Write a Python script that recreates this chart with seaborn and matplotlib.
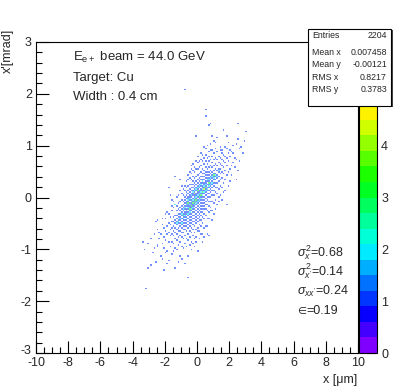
import numpy as np
import matplotlib
matplotlib.use("Agg")
import matplotlib.pyplot as plt
import matplotlib.transforms as mtransforms
from matplotlib.colors import ListedColormap, hsv_to_rgb
from matplotlib.patches import Rectangle
from matplotlib.ticker import MultipleLocator
import seaborn as sns

# ---------------- data ----------------
# core of the distribution: one x bin per column, y positions of occupied bins (1 entry)
core_col_x = [-2.45, -2.35, -2.25, -2.15, -2.05, -1.95, -1.85, -1.75, -1.65, -1.55,
              -1.45, -1.35, -1.25, -1.15, -1.05, -0.95, -0.85, -0.75, -0.65, -0.55,
              -0.45, -0.35, -0.25, -0.15, -0.05, 0.05, 0.15, 0.25, 0.35, 0.45,
              0.55, 0.65, 0.75, 0.85, 0.95, 1.05, 1.15, 1.25, 1.35, 1.45,
              1.55, 1.65, 1.75, 1.85, 1.95, 2.05, 2.15, 2.25, 2.35, 2.45]
core_col_y = [
    [-0.95, -0.62],
    [-0.80],
    [-1.12, -0.71],
    [-0.88, -0.52],
    [-0.97, -0.76, -0.58],
    [-0.83, -0.64, -0.40],
    [-1.03, -0.70, -0.55],
    [-0.86, -0.67, -0.49, -0.31],
    [-0.94, -0.74, -0.61, -0.52, -0.37],
    [-0.85, -0.70, -0.58, -0.47, -0.25],
    [-0.89, -0.73, -0.64, -0.55, -0.46, -0.38, -0.20],
    [-0.97, -0.79, -0.67, -0.58, -0.49, -0.43, -0.34, -0.13],
    [-0.83, -0.71, -0.62, -0.53, -0.47, -0.41, -0.35, -0.26, -0.17],
    [-0.92, -0.76, -0.65, -0.59, -0.50, -0.44, -0.38, -0.32, -0.23, -0.10, 0.04],
    [-0.86, -0.73, -0.64, -0.55, -0.49, -0.43, -0.37, -0.31, -0.25, -0.19, -0.07],
    [-0.95, -0.77, -0.67, -0.58, -0.52, -0.46, -0.40, -0.34, -0.28, -0.22, -0.16, -0.04, 0.08],
    [-0.80, -0.68, -0.61, -0.55, -0.49, -0.43, -0.37, -0.31, -0.25, -0.19, -0.13, -0.07, 0.05],
    [-0.89, -0.74, -0.62, -0.56, -0.50, -0.44, -0.38, -0.32, -0.29, -0.23, -0.17, -0.11, -0.05, 0.02, 0.14, 0.22],
    [-0.79, -0.65, -0.55, -0.49, -0.43, -0.37, -0.31, -0.28, -0.22, -0.16, -0.10, -0.07, -0.01, 0.05, 0.11, 0.20],
    [-0.82, -0.70, -0.58, -0.52, -0.46, -0.40, -0.34, -0.28, -0.22, -0.16, -0.13, -0.07, -0.01, 0.02, 0.08, 0.14, 0.23, 0.35],
    [-0.76, -0.64, -0.55, -0.49, -0.43, -0.37, -0.31, -0.25, -0.19, -0.16, -0.10, -0.04, 0.02, 0.05, 0.11, 0.17, 0.26, 0.38],
    [-0.85, -0.67, -0.58, -0.50, -0.44, -0.38, -0.32, -0.26, -0.20, -0.14, -0.11, -0.05, 0.01, 0.07, 0.13, 0.19, 0.25, 0.34, 0.46],
    [-0.74, -0.61, -0.52, -0.46, -0.40, -0.34, -0.28, -0.22, -0.16, -0.13, -0.07, -0.01, 0.05, 0.08, 0.14, 0.20, 0.26, 0.32, 0.41, 0.53],
    [-0.80, -0.68, -0.56, -0.47, -0.41, -0.35, -0.29, -0.23, -0.17, -0.11, -0.05, 0.01, 0.04, 0.10, 0.16, 0.22, 0.28, 0.37, 0.49],
    [-0.77, -0.62, -0.50, -0.44, -0.38, -0.32, -0.26, -0.20, -0.14, -0.08, -0.02, 0.04, 0.07, 0.13, 0.19, 0.25, 0.31, 0.40, 0.55],
    [-0.58, -0.46, -0.40, -0.34, -0.28, -0.22, -0.16, -0.10, -0.04, 0.02, 0.08, 0.11, 0.17, 0.23, 0.29, 0.35, 0.44, 0.56, 0.68],
    [-0.64, -0.52, -0.43, -0.37, -0.31, -0.25, -0.19, -0.13, -0.07, -0.01, 0.05, 0.11, 0.14, 0.20, 0.26, 0.32, 0.38, 0.47, 0.59],
    [-0.55, -0.43, -0.34, -0.28, -0.22, -0.16, -0.10, -0.04, 0.02, 0.08, 0.14, 0.17, 0.23, 0.29, 0.35, 0.41, 0.50, 0.62, 0.74],
    [-0.49, -0.37, -0.28, -0.22, -0.16, -0.10, -0.04, 0.02, 0.08, 0.14, 0.20, 0.23, 0.29, 0.35, 0.41, 0.47, 0.56, 0.71],
    [-0.58, -0.40, -0.31, -0.22, -0.16, -0.10, -0.04, 0.02, 0.08, 0.14, 0.20, 0.26, 0.29, 0.35, 0.41, 0.47, 0.53, 0.65],
    [-0.34, -0.22, -0.13, -0.07, -0.01, 0.05, 0.11, 0.17, 0.23, 0.29, 0.32, 0.38, 0.44, 0.50, 0.59, 0.71, 0.83],
    [-0.40, -0.25, -0.13, -0.04, 0.02, 0.08, 0.14, 0.20, 0.26, 0.32, 0.38, 0.44, 0.50, 0.56, 0.65, 0.77],
    [-0.28, -0.16, -0.07, 0.02, 0.08, 0.14, 0.20, 0.26, 0.32, 0.38, 0.44, 0.50, 0.59, 0.71, 0.89],
    [-0.19, -0.07, 0.02, 0.11, 0.17, 0.23, 0.29, 0.35, 0.41, 0.47, 0.53, 0.62, 0.74, 0.92],
    [-0.25, -0.07, 0.05, 0.14, 0.20, 0.26, 0.32, 0.38, 0.44, 0.50, 0.59, 0.68, 0.80],
    [-0.10, 0.05, 0.14, 0.23, 0.29, 0.35, 0.41, 0.47, 0.53, 0.62, 0.74, 0.86],
    [-0.04, 0.11, 0.20, 0.29, 0.35, 0.41, 0.47, 0.56, 0.65, 0.77, 0.95],
    [0.08, 0.20, 0.29, 0.38, 0.44, 0.53, 0.62, 0.74, 0.89],
    [0.02, 0.17, 0.32, 0.41, 0.50, 0.56, 0.68, 0.80],
    [0.23, 0.35, 0.47, 0.56, 0.65, 0.77, 0.92],
    [0.20, 0.38, 0.50, 0.62, 0.74, 0.86],
    [0.29, 0.47, 0.59, 0.71, 0.83],
    [0.35, 0.53, 0.68, 0.80, 0.98],
    [0.44, 0.62, 0.77, 0.95],
    [0.50, 0.71, 0.86],
    [0.56, 0.80, 0.92],
    [0.62, 0.89],
    [0.68, 1.01],
    [0.59],
    [0.74, 1.04],
]

# isolated entries far from the core (1 entry each)
outlier_x = [-0.75, 0.55, 0.55, 0.85, 0.75, 2.55, 3.05, -0.05, 0.95, 1.65, 1.85, 1.95,
             2.55, 2.75, 0.45, 1.45, 1.55, 2.25, 2.35, 1.25, -0.35, -1.35, -1.65, 2.45,
             -3.35, -3.25, -3.05, -3.15, -2.75, -3.05, -2.45, -1.75, -1.15, -1.45, -0.55,
             -1.95, -2.35, -2.55, -2.45, -1.35, -1.55, -1.95,
             0.05, 0.65, 0.35, 0.05, 1.85, 1.35, 0.75, 0.85, 0.75]
outlier_y = [2.09, 1.70, 1.58, 1.43, 1.40, 1.43, 1.28, 1.19, 1.19, 1.31, 1.19, 1.07,
             1.13, 0.98, 0.98, 0.98, 0.92, 0.86, 0.77, 1.16, 0.56, 0.40, 0.05, 0.34,
             -0.85, -1.01, -1.37, -1.75, -1.08, -0.88, -0.92, -1.21, -1.24, -1.05, -1.54,
             -1.08, -0.67, -0.47, -0.43, -0.14, -0.16, -0.31,
             -1.04, -0.56, -0.70, -0.64, -0.14, -0.08, -0.40, -0.25, -0.74]

# halo entries around the core (1 entry each)
halo_x = [-1.85, -1.55, -1.25, -1.05, -0.95, -0.85, -0.65, -0.55, -0.45, -0.35, -0.25, -0.15,
          -0.05, 0.05, 0.15, 0.25, 0.35, 0.45, 0.55, 0.65, 0.75, 0.85, 0.95, 1.05, 1.15,
          -1.45, -2.15, -2.65, -1.75, -1.05,
          -1.85, -1.55, -1.25, -1.05, -0.95, -0.85, -0.65, -0.55, -0.45, -0.35, -0.25, -0.15,
          -0.05, 0.15, 0.25, 0.35, 0.45, 0.55, 0.65, 0.95, 1.05, 1.15, 1.25, 1.45, 1.55,
          1.65, 1.75, 1.95, 2.05, 2.15, 2.55, 2.65, 2.85, -2.15, -2.55, -2.85, -1.35,
          -0.75, -2.05, -2.65, -2.85, 2.65, 2.95]
halo_y = [-0.28, -0.05, 0.01, 0.12, 0.23, 0.16, 0.31, 0.44, 0.50, 0.62, 0.65, 0.58,
          0.70, 0.80, 0.71, 0.86, 0.83, 0.77, 0.95, 1.01, 0.80, 1.04, 0.92, 1.10, 1.07,
          -0.08, -0.40, -0.70, 0.20, 0.35,
          -1.28, -1.10, -1.01, -1.13, -1.19, -0.98, -0.95, -1.13, -0.92, -1.01, -0.89, -0.95,
          -0.86, -0.80, -0.71, -0.85, -0.76, -0.55, -0.71, -0.43, -0.31, -0.22, -0.13, 0.05,
          -0.04, 0.11, 0.14, 0.23, 0.32, 0.44, 0.53, 0.71, 0.86, -1.19, -1.25, -1.31, -1.37,
          -1.28, -1.40, -0.97, -0.79, 0.95, 1.10]

# bins with 2 entries
double_x = [-1.25, -1.15, -1.05, -0.95, -0.95, -0.85, -0.85, -0.75, -0.75, -0.65, -0.65, -0.65,
            -0.55, -0.55, -0.55, -0.45, -0.45, -0.45, -0.35, -0.35, -0.35, -0.25, -0.25, -0.25,
            -0.15, -0.15, -0.15, -0.05, -0.05, -0.05, 0.05, 0.05, 0.05, 0.15, 0.15, 0.15,
            0.25, 0.25, 0.25, 0.35, 0.35, 0.35, 0.45, 0.45, 0.55, 0.55, 0.65, 0.65,
            0.75, 0.75, 0.85, 0.85, 0.95, 0.95, 1.05, 1.15, 1.25, 1.35]
double_y = [-0.50, -0.47, -0.40, -0.49, -0.31, -0.40, -0.22, -0.35, -0.20, -0.40, -0.25, -0.13,
            -0.31, -0.19, -0.04, -0.28, -0.13, -0.01, -0.23, -0.08, 0.04, -0.19, -0.04, 0.11,
            -0.14, -0.02, 0.13, -0.11, 0.01, 0.16, -0.07, 0.05, 0.20, -0.04, 0.08, 0.23,
            -0.01, 0.11, 0.26, 0.05, 0.17, 0.32, 0.11, 0.23, 0.14, 0.26, 0.17, 0.35,
            0.23, 0.35, 0.26, 0.38, 0.29, 0.41, 0.38, 0.44, 0.41, 0.53]

# bins with 3 entries
triple_x = [-0.85, -0.55, -0.45, -0.35, -0.25, -0.15, -0.05, 0.05, 0.15, 0.25, 0.35, 0.55, 0.75, 1.05]
triple_y = [-0.34, -0.10, -0.22, -0.17, -0.10, -0.08, -0.05, 0.14, 0.02, 0.05, 0.11, 0.20, 0.29, 0.44]

# bins with 4 entries
quad_x = [-0.15, 0.45]
quad_y = [0.07, 0.17]

stats_labels = ["Entries", "Mean x", "Mean y", "RMS x", "RMS y"]
stats_values = ["2204", "0.007458", "-0.00121", "0.8217", "0.3783"]

x_ticks = [-10, -8, -6, -4, -2, 0, 2, 4, 6, 8, 10]
y_ticks = [-3, -2, -1, 0, 1, 2, 3]
z_ticks = [0, 1, 2, 3, 4]

# ---------------- assemble ----------------
xs, ys, ws = [], [], []
for cx, col in zip(core_col_x, core_col_y):
    for cy in col:
        xs.append(cx); ys.append(cy); ws.append(1)
for lx, ly, w in ((outlier_x, outlier_y, 1), (halo_x, halo_y, 1), (double_x, double_y, 2),
                  (triple_x, triple_y, 3), (quad_x, quad_y, 4)):
    for a, b in zip(lx, ly):
        xs.append(a); ys.append(b); ws.append(w)

# ---------------- style ----------------
sns.set_style("white")
plt.rcParams['font.family'] = ['Liberation Sans', 'DejaVu Sans']
plt.rcParams['axes.unicode_minus'] = False
plt.rcParams['mathtext.fontset'] = 'custom'
plt.rcParams['mathtext.rm'] = 'Liberation Sans'
plt.rcParams['mathtext.it'] = 'Liberation Sans:italic'
plt.rcParams['mathtext.bf'] = 'Liberation Sans:bold'

# ROOT-like rainbow palette, 20 contour levels
n_levels = 20
pal = [hsv_to_rgb((270.0 * (1 - i / (n_levels - 1)) / 360.0, 1.0, 1.0)) for i in range(n_levels)]
cmap = ListedColormap(pal)

W, H = 395, 388
fig = plt.figure(figsize=(W / 100, H / 100), dpi=100)
fig.patch.set_facecolor("white")
ax = fig.add_axes([36 / W, 1 - 353 / H, 322 / W, 311 / H])
cax = fig.add_axes([359 / W, 1 - 353 / H, 18 / W, 311 / H])

sns.histplot(x=xs, y=ys, weights=ws, binwidth=(0.1, 0.03),
             binrange=((-10, 10), (-3, 3)), cmap=cmap, vmin=0, vmax=6,
             cbar=True, cbar_ax=cax, ax=ax)
mesh = ax.collections[0]
mesh.set_clim(0, 6)
mesh.set_alpha(0.55)

ax.set_xlim(-10, 10)
ax.set_ylim(-3, 3)
ax.set_xlabel("")
ax.set_ylabel("")
ax.set_xticks(x_ticks)
ax.set_yticks(y_ticks)
ax.set_xticklabels([str(t) for t in x_ticks])
ax.set_yticklabels([str(t) for t in y_ticks])
ax.xaxis.set_minor_locator(MultipleLocator(0.5))
ax.yaxis.set_minor_locator(MultipleLocator(0.2))
ax.tick_params(which='major', direction='in', length=9, width=0.8, color='black',
               labelsize=9, bottom=True, left=True, top=False, right=False)
ax.tick_params(axis='x', which='major', pad=3)
ax.tick_params(axis='y', which='major', pad=3)
ax.tick_params(which='minor', direction='in', length=4.5, width=0.8, color='black',
               bottom=True, left=True, top=False, right=False)
for s in ax.spines.values():
    s.set_visible(True)
    s.set_color('black')
    s.set_linewidth(0.8)
ax.grid(False)
# the lowest y label sits slightly above its tick, as in the reference
low_lab = ax.get_yticklabels()[0]
low_lab.set_transform(low_lab.get_transform() +
                      mtransforms.ScaledTranslation(0, 4 / 100, fig.dpi_scale_trans))

cax.set_ylim(0, 6)
cax.set_yticks(z_ticks)
cax.set_yticklabels([str(t) for t in z_ticks])
cax.yaxis.set_ticks_position('right')
cax.tick_params(axis='y', direction='in', length=8, width=0.8, color='black',
                labelsize=9, pad=3, right=True, left=False)
cax.minorticks_off()
for s in cax.spines.values():
    s.set_color('black')
    s.set_linewidth(0.8)

# axis titles
fig.text(357 / W, 1 - 383 / H, "x [\u03bcm]", ha='right', va='baseline', fontsize=9)
fig.text(14 / W, 1 - 29 / H, "x'[mrad]", ha='right', va='top', rotation=90, fontsize=9)

# beam annotations
fig.text(73 / W, 1 - 61 / H, r"E$_{\mathregular{e+}}$ beam = 44.0 GeV", ha='left', va='baseline', fontsize=9.5)
fig.text(73 / W, 1 - 81 / H, "Target: Cu", ha='left', va='baseline', fontsize=9.5)
fig.text(73 / W, 1 - 100.5 / H, "Width : 0.4 cm", ha='left', va='baseline', fontsize=9.5)

# emittance annotations
fig.text(297 / W, 1 - 256 / H, r"$\sigma^{2}_{x}$=0.68", ha='left', va='baseline', fontsize=9)
fig.text(297 / W, 1 - 275.5 / H, r"$\sigma^{2}_{x'}$=0.14", ha='left', va='baseline', fontsize=9)
fig.text(297 / W, 1 - 295 / H, r"$\sigma_{xx'}$=0.24", ha='left', va='baseline', fontsize=9)
fig.text(297 / W, 1 - 314 / H, "\u2208", ha='left', va='baseline', fontsize=7.5,
         family=['DejaVu Sans'])
fig.text(306.5 / W, 1 - 314 / H, "=0.19", ha='left', va='baseline', fontsize=9)

# statistics box
box_l, box_t, box_r, box_b = 308, 29, 391, 106
fig.patches.append(Rectangle((box_l / W + 1.5 / W, 1 - box_b / H - 1.5 / H),
                             (box_r - box_l) / W, (box_b - box_t) / H,
                             transform=fig.transFigure, facecolor='#444444',
                             edgecolor='none', zorder=20))
fig.patches.append(Rectangle((box_l / W, 1 - box_b / H),
                             (box_r - box_l) / W, (box_b - box_t) / H,
                             transform=fig.transFigure, facecolor='white',
                             edgecolor='black', linewidth=0.8, zorder=21))
row_y = [38, 55, 67, 79.5, 91.5]
for lab, val, ry in zip(stats_labels, stats_values, row_y):
    fig.text(312 / W, 1 - ry / H, lab, ha='left', va='baseline', fontsize=6.3, zorder=22)
    fig.text(387 / W, 1 - ry / H, val, ha='right', va='baseline', fontsize=6.3, zorder=22)

fig.savefig("out.png", dpi=100, facecolor="white")
